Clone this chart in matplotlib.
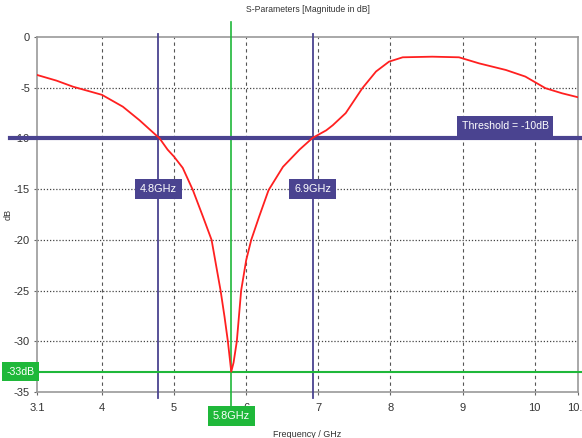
import numpy as np
import matplotlib
matplotlib.use('Agg')
import matplotlib.pyplot as plt

# S11 curve
freq = [3.10, 3.37, 3.60, 4.00, 4.29, 4.52, 4.80, 4.91, 5.00, 5.12, 5.26, 5.40, 5.52, 5.585,
        5.645, 5.70, 5.746, 5.793, 5.825, 5.87, 5.93, 6.00, 6.07, 6.18, 6.31,
        6.51, 6.74, 6.92, 7.11, 7.20, 7.38, 7.61, 7.80, 7.98, 8.17, 8.58, 8.95,
        9.23, 9.60, 9.87, 10.15, 10.38, 10.60]
s11 = [-3.74, -4.3, -4.9, -5.7, -6.87, -8.2, -10.0, -11.1, -11.8, -12.9, -15.08, -17.7, -20.0, -22.6,
       -25.0, -27.6, -30.0, -33.0, -32.1, -30.0, -25.0, -22.0, -20.0, -17.7, -15.1,
       -12.8, -11.1, -9.95, -9.2, -8.7, -7.5, -5.05, -3.4, -2.43, -2.0, -1.94, -2.0,
       -2.6, -3.25, -3.9, -5.05, -5.55, -5.94]

xticks = [3.1, 4, 5, 6, 7, 8, 9, 10, 10.6]
xtick_labels = ['3.1', '4', '5', '6', '7', '8', '9', '10', '10.6']
yticks = [0, -5, -10, -15, -20, -25, -30, -35]

threshold = -10
f_low, f_high = 4.78, 6.92   # marker positions
lbl_low, lbl_high = '4.8GHz', '6.9GHz'
f_res, s_min = 5.793, -33
lbl_res, lbl_min = '5.8GHz', '-33dB'

blue = '#4a4390'
green = '#1fb83a'
fnt = ['Liberation Sans', 'DejaVu Sans']

fig = plt.figure(figsize=(5.82, 4.38), dpi=100)
ax = fig.add_axes([0.0636, 0.105, 0.9295, 0.8105])
ax.set_xlim(3.1, 10.6)
ax.set_ylim(-35, 0)

ax.set_xticks(xticks)
ax.set_xticklabels(xtick_labels, family=fnt, fontsize=8, color='#333333')
ax.set_yticks(yticks)
ax.set_yticklabels([str(v) for v in yticks], family=fnt, fontsize=8, color='#333333')
ax.tick_params(length=2, width=0.8, color='#666666', pad=6)
ax.tick_params(axis='y', pad=3)

for x in xticks[1:-1]:
    ax.axvline(x, color='#555555', lw=0.8, ls=(0, (3, 3)), zorder=1)
for y in yticks[1:-1]:
    ax.axhline(y, color='#444444', lw=0.9, ls=(0, (1, 1.5)), zorder=1)
for s in ax.spines.values():
    s.set_color('#999999')
    s.set_linewidth(1.2)

# markers
ax.plot([f_low, f_low], [0.3, -35.6], color=blue, lw=1.3, clip_on=False, zorder=3)
ax.plot([f_high, f_high], [0.3, -35.6], color=blue, lw=1.3, clip_on=False, zorder=3)
ax.plot([f_res, f_res], [1.5, -36.5], color=green, lw=1.2, clip_on=False, zorder=3)
ax.plot([2.73, 10.66], [threshold, threshold], color=blue, lw=3, clip_on=False, zorder=3)
ax.plot([2.9, 10.66], [s_min, s_min], color=green, lw=1.5, clip_on=False, zorder=3)

ax.plot(freq, s11, color='#ff2020', lw=1.3, zorder=4)

box_b = dict(boxstyle='square,pad=0.45', fc=blue, ec='none')
box_g = dict(boxstyle='square,pad=0.45', fc=green, ec='none')
ax.text(9.59, -8.77, 'Threshold = -10dB', ha='center', va='center', color='white',
        family=fnt, fontsize=7.6, bbox=box_b, zorder=5)
ax.text(f_low, -15, lbl_low, ha='center', va='center', color='white',
        family=fnt, fontsize=7.8, bbox=box_b, zorder=5)
ax.text(f_high, -15, lbl_high, ha='center', va='center', color='white',
        family=fnt, fontsize=7.8, bbox=box_b, zorder=5)
ax.text(f_res, -37.4, lbl_res, ha='center', va='center', color='white',
        family=fnt, fontsize=7.8, bbox=box_g, clip_on=False, zorder=5)
ax.text(2.87, s_min, lbl_min, ha='center', va='center', color='white',
        family=fnt, fontsize=7.6, bbox=box_g, clip_on=False, zorder=5)

ax.set_title('S-Parameters [Magnitude in dB]', family=fnt, fontsize=6.2, color='#333333', pad=18)
ax.set_xlabel('Frequency / GHz', family=fnt, fontsize=6.5, color='#333333')
ax.xaxis.set_label_coords(0.5, -0.108)
ax.set_ylabel('dB', family=fnt, fontsize=6.5, color='#333333')
ax.yaxis.set_label_coords(-0.046, 0.5)

fig.savefig('out.png', dpi=100)
